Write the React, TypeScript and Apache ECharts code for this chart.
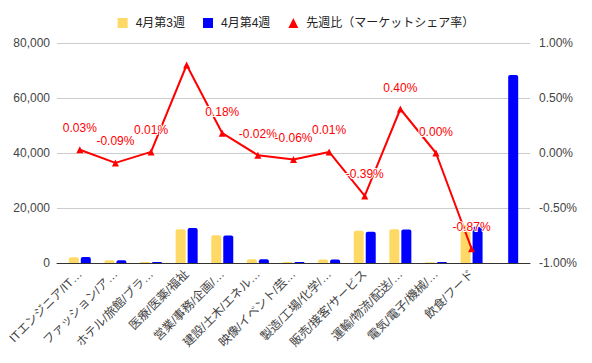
import React, { useEffect, useRef } from "react";
import * as echarts from "echarts";

const categories = [
  "ITエンジニア/IT…",
  "ファッション/ア…",
  "ホテル/旅館/ブラ…",
  "医療/医薬/福祉",
  "営業/事務/企画/…",
  "建設/土木/エネル…",
  "映像/イベント/芸…",
  "製造/工場/化学/…",
  "販売/接客/サービス",
  "運輸/物流/配送/…",
  "電気/電子/機械/…",
  "飲食/フード",
  "",
];
const week3 = [2100, 1000, 400, 12300, 10100, 1400, 400, 1300, 11700, 12300, 300, 13800, 0];
const week4 = [2200, 1000, 400, 12700, 10000, 1400, 400, 1300, 11400, 12200, 400, 13200, 68400];
const shareChange = [0.03, -0.09, 0.01, 0.8, 0.18, -0.02, -0.06, 0.01, -0.39, 0.4, 0.0, -0.87];
const hiddenLabels = [3];

const leftTicks = { min: 0, max: 80000, interval: 20000 };
const rightTicks = { min: -1, max: 1, interval: 0.5 };

const FONT = "Arial, 'Liberation Sans', 'Noto Sans CJK JP', sans-serif";

export default function App() {
  const ref = useRef<HTMLDivElement>(null);
  useEffect(() => {
    if (!ref.current) return;
    document.body.style.margin = "0";
    const chart = echarts.init(ref.current, undefined, { renderer: "svg" });
    const top = 43;
    const bottom = 100;
    chart.setOption({
      animation: false,
      textStyle: { fontFamily: FONT },
      legend: {
        top: 12,
        left: "center",
        itemWidth: 10,
        itemHeight: 10,
        itemGap: 18,
        textStyle: { fontSize: 12, color: "#222", fontFamily: FONT, padding: [0, 0, 0, 3] },
        data: [
          { name: "4月第3週", icon: "rect" },
          { name: "4月第4週", icon: "rect" },
          { name: "先週比（マーケットシェア率）", icon: "triangle" },
        ],
      },
      grid: [
        { left: 62, right: 67, top, bottom },
        { left: 57, right: 62, top, bottom },
      ],
      xAxis: [
        {
          type: "category",
          gridIndex: 0,
          data: categories,
          axisLine: { show: false },
          axisTick: { show: false },
          axisLabel: {
            interval: 0,
            rotate: 45,
            margin: 9,
            fontSize: 12,
            color: "#444",
            fontFamily: FONT,
          },
        },
        {
          type: "category",
          gridIndex: 1,
          data: categories,
          axisLine: { show: true, lineStyle: { color: "#333", width: 1 } },
          axisTick: { show: false },
          axisLabel: { show: false },
        },
      ],
      yAxis: [
        { type: "value", gridIndex: 0, ...leftTicks, show: false },
        { type: "value", gridIndex: 0, ...rightTicks, show: false },
        {
          type: "value",
          gridIndex: 1,
          ...leftTicks,
          position: "left",
          axisLine: { show: false },
          axisTick: { show: false },
          splitLine: { show: true, lineStyle: { color: "#ccc", width: 1 } },
          axisLabel: {
            margin: 7,
            fontSize: 12,
            color: "#444",
            fontFamily: FONT,
            formatter: (v: number) => v.toLocaleString("en-US"),
          },
        },
        {
          type: "value",
          gridIndex: 1,
          ...rightTicks,
          position: "right",
          axisLine: { show: false },
          axisTick: { show: false },
          splitLine: { show: false },
          axisLabel: {
            margin: 9,
            fontSize: 12,
            color: "#444",
            fontFamily: FONT,
            formatter: (v: number) => v.toFixed(2) + "%",
          },
        },
      ],
      series: [
        {
          name: "4月第3週",
          type: "bar",
          xAxisIndex: 0,
          yAxisIndex: 0,
          data: week3,
          barWidth: 10,
          barGap: "20%",
          itemStyle: { color: "#FFD966", borderRadius: [2, 2, 0, 0] },
          z: 2,
        },
        {
          name: "4月第4週",
          type: "bar",
          xAxisIndex: 0,
          yAxisIndex: 0,
          data: week4,
          barWidth: 10,
          barGap: "20%",
          itemStyle: { color: "#0000FF", borderRadius: [2, 2, 0, 0] },
          z: 2,
        },
        {
          name: "先週比（マーケットシェア率）",
          type: "line",
          xAxisIndex: 0,
          yAxisIndex: 1,
          data: shareChange.map((v, i) => ({
            value: v,
            label: { show: !hiddenLabels.includes(i) },
          })),
          symbol: "triangle",
          symbolSize: 7,
          lineStyle: { color: "#FF0000", width: 2 },
          itemStyle: { color: "#FF0000" },
          z: 5,
          label: {
            show: true,
            position: "top",
            distance: 12,
            fontSize: 12,
            color: "#FF0000",
            fontFamily: FONT,
            textBorderColor: "#fff",
            textBorderWidth: 2,
            formatter: (p: any) => Number(p.value).toFixed(2) + "%",
          },
        },
      ],
    });
    return () => chart.dispose();
  }, []);
  return <div ref={ref} style={{ width: 592, height: 363 }} />;
}
